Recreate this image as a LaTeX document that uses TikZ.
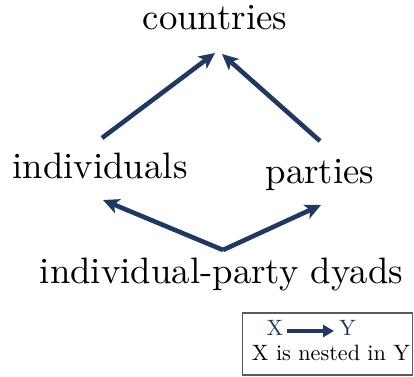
\documentclass[tikz,border=0pt]{standalone}
\usetikzlibrary{arrows.meta}
\definecolor{navy}{RGB}{31,56,100}
\begin{document}
\begin{tikzpicture}[x=1pt,y=1pt,
  lbl/.style={anchor=base,inner sep=0pt,font=\fontsize{10}{12}\selectfont,scale=3.68},
  leg/.style={anchor=base,inner sep=0pt,font=\fontsize{10}{12}\selectfont,scale=2.22},
  nest/.style={navy,line width=4.6pt,-{Stealth[length=16pt,width=15pt,inset=4pt]}},
  legarrow/.style={navy,line width=4pt,-{Triangle[length=11pt,width=12pt]}}]
\useasboundingbox (0,0) rectangle (414,376);
\node[lbl] (countries) at (215,346.5) {countries};
\node[lbl] (individuals) at (100,198) {individuals};
\node[lbl] (parties) at (320,193) {parties};
\node[lbl] (dyads) at (221.5,93) {individual-party dyads};
\coordinate (iTop) at (102,238);
\coordinate (pTop) at (320,235);
\coordinate (cBotL) at (215,323);
\coordinate (cBotR) at (222,322);
\coordinate (dTop) at (223,126);
\coordinate (iBot) at (103,176);
\coordinate (pBot) at (321,171);
\draw[nest] (iTop) -- (cBotL);
\draw[nest] (pTop) -- (cBotR);
\draw[nest] (dTop) -- (iBot);
\draw[nest] (dTop) -- (pBot);
% legend
\draw[gray!70!black,line width=1.6pt] (242.5,1) rectangle (412.5,63);
\node[leg,text=navy] (lx) at (275,41) {X};
\node[leg,text=navy] (ly) at (347.5,41) {Y};
\node[leg] (ltext) at (331,16) {X is nested in Y};
\coordinate (la) at (287,45);
\coordinate (lb) at (334,45);
\draw[legarrow] (la) -- (lb);
\end{tikzpicture}
\end{document}
